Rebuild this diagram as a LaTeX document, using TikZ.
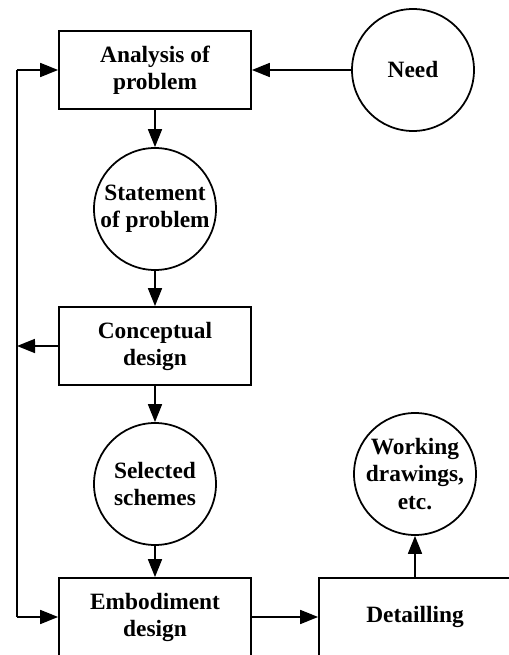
\documentclass[tikz,border=0pt]{standalone}
\usepackage{fontspec}
\setmainfont{Liberation Serif}
\usetikzlibrary{arrows.meta}

\tikzset{
  block/.style={draw=black, line width=1pt, rectangle, minimum width=3.84cm, minimum height=1.56cm,
    align=center, font=\bfseries\fontsize{13.3}{15.4}\selectfont},
  state/.style={draw=black, line width=1pt, circle, minimum size=2.44cm,
    align=center, font=\bfseries\fontsize{13.3}{15.4}\selectfont},
  arr/.style={line width=1pt, -{Triangle[length=0.36cm,width=0.28cm]}}
}

\begin{document}
\begin{tikzpicture}[scale=0.2]
            \tikzstyle{every node}+=[inner sep=0pt]
            \useasboundingbox (0,0) rectangle (50.9,-65.5);
            \clip (0,0) rectangle (50.9,-65.5);
            \node [block] (ana) at (15.5,-7.0) {Analysis of\\problem};
            \node [state] (need) at (41.3,-7.0) {Need};
            \node [state] (stmt) at (15.5,-20.9) {Statement\\of problem};
            \node [block] (concept) at (15.5,-34.6) {Conceptual\\design};
            \node [state] (sel) at (15.5,-48.4) {Selected\\schemes};
            \node [block] (embod) at (15.5,-61.7) {Embodiment\\design};
            \node [block] (detail) at (41.5,-61.7) {Detailling};
            \node [state] (work) at (41.5,-47.4) {Working\\drawings,\\etc.};
            \coordinate (fb) at (1.7,0);
            \draw [arr] (need) -- (ana);
            \draw [arr] (ana) -- (stmt);
            \draw [arr] (stmt) -- (concept);
            \draw [arr] (concept) -- (sel);
            \draw [arr] (sel) -- (embod);
            \draw [arr] (embod) -- (detail);
            \draw [arr] (detail) -- (work);
            % feedback loop
            \draw [line width=1pt] (fb |- ana) -- (fb |- embod);
            \draw [arr] (fb |- ana) -- (ana);
            \draw [arr] (fb |- embod) -- (embod);
            \draw [arr] (concept) -- (fb |- concept);
            \end{tikzpicture}
\end{document}
